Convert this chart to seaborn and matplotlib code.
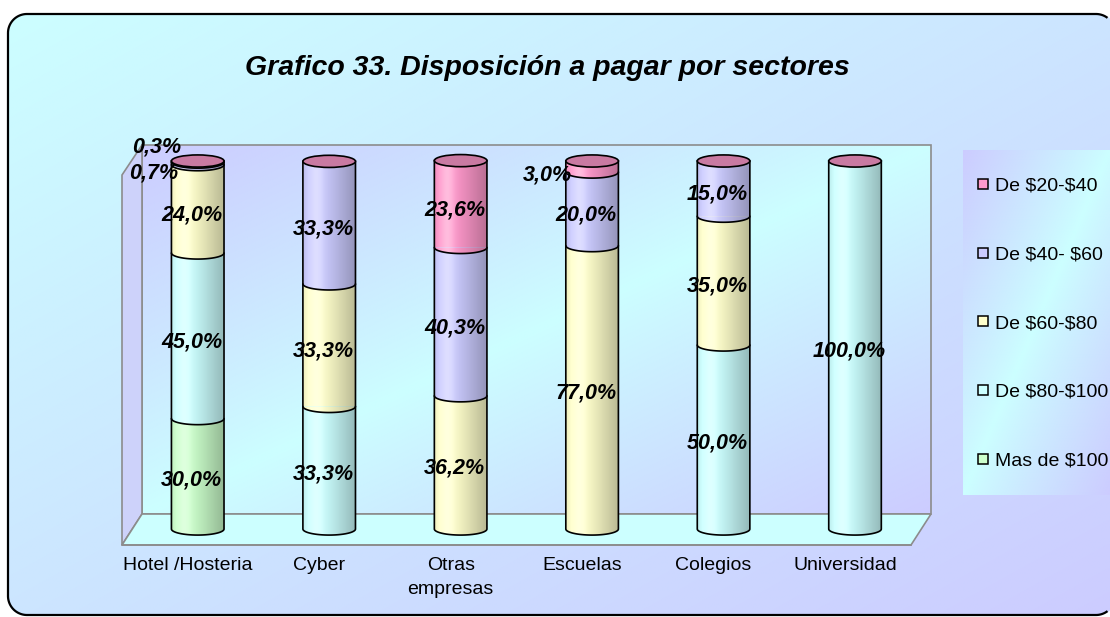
import numpy as np
import pandas as pd
import matplotlib
matplotlib.use("Agg")
import matplotlib.pyplot as plt
from matplotlib.patches import Polygon, Ellipse, FancyBboxPatch, Rectangle
from matplotlib.lines import Line2D
from matplotlib.colors import to_rgb
import seaborn as sns

# ---- data -------------------------------------------------------------
sectors = ["Hotel /Hosteria", "Cyber", "Otras\nempresas", "Escuelas", "Colegios", "Universidad"]
series = ["Mas de $100", "De $80-$100", "De $60-$80", "De $40- $60", "De $20-$40"]
mas_100 = [30.0, 0.0, 0.0, 0.0, 0.0, 0.0]
de_80_100 = [45.0, 33.3, 0.0, 0.0, 50.0, 100.0]
de_60_80 = [24.0, 33.3, 36.2, 77.0, 35.0, 0.0]
de_40_60 = [0.7, 33.3, 40.3, 20.0, 15.0, 0.0]
de_20_40 = [0.3, 0.0, 23.6, 3.0, 0.0, 0.0]
series_values = [mas_100, de_80_100, de_60_80, de_40_60, de_20_40]
series_colors = ["#CCFFCC", "#CCFFFF", "#FFFFCC", "#CCCCFF", "#FF99CC"]
cap_color = "#C97AA2"
title = "Grafico 33. Disposición a pagar por sectores"

# ---- style ------------------------------------------------------------
sns.set_style("white")
plt.rcParams["font.family"] = ["Liberation Sans", "DejaVu Sans"]
plt.rcParams["text.parse_math"] = False
plt.rcParams["text.color"] = "black"
plt.rcParams["xtick.color"] = "black"
plt.rcParams["xtick.labelcolor"] = "black"

W, H = 1110, 617
fig = plt.figure(figsize=(W / 100, H / 100), dpi=100)
fig.patch.set_facecolor("white")

CYAN = np.array(to_rgb("#CCFFFF"))
LAV = np.array(to_rgb("#CCCCFF"))


def blend(t):
    t = np.clip(t, 0, 1)[..., None]
    rgb = CYAN * (1 - t) + LAV * t
    return np.concatenate([rgb, np.ones(t.shape)], axis=-1)


vv, uu = np.mgrid[0:1:300j, 0:1:300j]

# ---- scenery layer in pixel coordinates -------------------------------
bg = fig.add_axes([0, 0, 1, 1], zorder=0)
bg.set_xlim(0, W)
bg.set_ylim(H, 0)
bg.axis("off")

BOX_X, BOX_Y, BOX_W, BOX_H, BOX_R = 8, 14, 1107, 601, 19
frame = FancyBboxPatch((BOX_X, BOX_Y), BOX_W, BOX_H,
                       boxstyle=f"round,pad=0,rounding_size={BOX_R}",
                       facecolor="none", edgecolor="none", zorder=10)
bg.add_patch(frame)
im = bg.imshow(blend((uu + vv) / 2), extent=(0, W, H, 0), aspect="auto",
               interpolation="bilinear", zorder=0)
im.set_clip_path(frame)

# rounded border traced point by point; the part past the canvas edge is left out
x1, y1 = BOX_X + BOX_W, BOX_Y + BOX_H
t = np.linspace(0, np.pi / 2, 30)
pieces = [
    np.column_stack([BOX_X + BOX_R - BOX_R * np.cos(t), BOX_Y + BOX_R - BOX_R * np.sin(t)]),
    np.column_stack([x1 - BOX_R + BOX_R * np.sin(t), BOX_Y + BOX_R - BOX_R * np.cos(t)]),
    np.column_stack([x1 - BOX_R + BOX_R * np.cos(t), y1 - BOX_R + BOX_R * np.sin(t)]),
    np.column_stack([BOX_X + BOX_R - BOX_R * np.sin(t), y1 - BOX_R + BOX_R * np.cos(t)]),
]
border = np.vstack(pieces + [pieces[0][:1]])
bx, by = border[:, 0].copy(), border[:, 1].copy()
off = bx > W - 2
bx[off] = np.nan
by[off] = np.nan
bg.plot(bx, by, color="black", lw=1.6, zorder=10, solid_capstyle="butt")

# back wall, side wall and floor of the plot box
wall_l, wall_r, wall_t, wall_b = 142, 931, 145, 514
front_l, front_r, front_y = 122, 911, 545
bg.imshow(blend(np.abs(uu + vv - 1) ** 0.9), extent=(wall_l, wall_r, wall_b, wall_t),
          aspect="auto", interpolation="bilinear", zorder=1)
bg.add_patch(Rectangle((wall_l, wall_t), wall_r - wall_l, wall_b - wall_t,
                       facecolor="none", edgecolor="#8C8C8C", lw=1.2, zorder=2))
bg.add_patch(Polygon([(front_l, 175), (wall_l, wall_t), (wall_l, wall_b), (front_l, front_y)],
                     closed=True, facecolor="#CDD2FA", edgecolor="#8C8C8C", lw=1.2, zorder=2))
bg.add_patch(Polygon([(front_l, front_y), (wall_l, wall_b), (wall_r, wall_b), (front_r, front_y)],
                     closed=True, facecolor="#CCFFFF", edgecolor="#8C8C8C", lw=1.2, zorder=2))

# legend panel
bg.imshow(blend(np.abs(uu + vv - 1) ** 0.9), extent=(963, W, 495, 150),
          aspect="auto", interpolation="bilinear", zorder=1)
bg.set_xlim(0, W)
bg.set_ylim(H, 0)

# ---- main axes --------------------------------------------------------
AX_L, AX_R, AX_T, AX_B = 122, 931, 145, 545
ax = fig.add_axes([AX_L / W, 1 - AX_B / H, (AX_R - AX_L) / W, (AX_B - AX_T) / H], zorder=1)
ax.set_facecolor("none")

rows = []
for i, sec in enumerate(sectors):
    for s, vals in zip(series, series_values):
        rows.append({"sector": sec, "serie": s, "valor": vals[i]})
df = pd.DataFrame(rows)
df["serie"] = pd.Categorical(df["serie"], categories=series, ordered=True)
df = df.sort_values(["sector", "serie"])
df["tope"] = df.groupby("sector", sort=False)["valor"].cumsum()

BAR_W = 0.4
total_patches = None
# draw cumulative tops from the highest layer down so lower layers sit in front
for s, col in zip(reversed(series), reversed(series_colors)):
    layer = df[df["serie"] == s]
    n0 = len(ax.patches)
    sns.barplot(data=layer, x="sector", y="tope", order=sectors, color=col,
                saturation=1, width=BAR_W, errorbar=None, linewidth=0, zorder=2, ax=ax)
    if total_patches is None:
        total_patches = ax.patches[n0:]

ELL_H = 3.3  # ellipse height in percent units
u = np.linspace(0, 1, 120)
shade = np.zeros((1, u.size, 4))
shade[..., 3] = 0.28 * np.clip((u - 0.33) / 0.67, 0, 1) ** 1.1 + 0.07 * np.clip((0.1 - u) / 0.1, 0, 1)
gloss = np.ones((1, u.size, 4))
gloss[..., 3] = 0.35 * np.exp(-((u - 0.25) / 0.13) ** 2)
theta = np.linspace(np.pi, 2 * np.pi, 60)


def half_ellipse(xc, y):
    return np.column_stack([xc + BAR_W / 2 * np.cos(theta), y + ELL_H / 2 * np.sin(theta)])


def pct(v):
    return f"{v:.1f}%".replace(".", ",")


# label placement for the thin slices that do not fit inside a bar
side_labels = {(0, 3): (-0.338, -2.6), (0, 4): (-0.31, 4.0), (3, 4): (-0.338, -2.3)}
lbl_font = dict(fontsize=15.5, fontweight="bold", fontstyle="italic", color="black", zorder=7)

for i, sec in enumerate(sectors):
    p = total_patches[i]
    x0, bw = p.get_x(), p.get_width()
    xc = x0 + bw / 2
    total = sum(v[i] for v in series_values)
    segs = []
    lo = 0.0
    for k, (vals, col) in enumerate(zip(series_values, series_colors)):
        if vals[i] > 0:
            segs.append((k, lo, lo + vals[i], col))
            lo += vals[i]
    # rounded lower edge of each slice
    for k, a, b, col in segs:
        ax.add_patch(Polygon(half_ellipse(xc, a), closed=True, facecolor=col,
                             edgecolor="none", zorder=2.5))
    outline = np.vstack([[x0, total], [x0, 0], half_ellipse(xc, 0)[1:-1], [x0 + bw, 0],
                         [x0 + bw, total]])
    body = Polygon(outline, closed=True, facecolor="none", edgecolor="black", lw=1.2, zorder=4)
    ax.add_patch(body)
    for img in (shade, gloss):
        ov = ax.imshow(img, extent=(x0, x0 + bw, -ELL_H, total), aspect="auto",
                       interpolation="bilinear", zorder=3)
        ov.set_clip_path(body)
    for k, a, b, col in segs[1:]:
        arc = half_ellipse(xc, a)
        ax.plot(arc[:, 0], arc[:, 1], color="black", lw=1.2, zorder=4)
    ax.add_patch(Ellipse((xc, total), bw, ELL_H, facecolor=cap_color,
                         edgecolor="black", lw=1.2, zorder=5))
    for k, a, b, col in segs:
        if (i, k) in side_labels:
            dx, dy = side_labels[(i, k)]
            ax.text(xc + dx, (a + b) / 2 + dy, pct(b - a), ha="center", va="center", **lbl_font)
        else:
            ax.text(xc - 0.045, (a + b) / 2 - 1.6, pct(b - a), ha="center", va="center", **lbl_font)

# axes scales matching the box geometry
PX_UNIT = 131.5
ZERO_PX = 529
PX_PCT = 3.68
ax.set_xlim((AX_L - 197.5) / PX_UNIT, (AX_R - 197.5) / PX_UNIT)
ax.set_ylim((ZERO_PX - AX_B) / PX_PCT, (ZERO_PX - AX_T) / PX_PCT)

front_shift = 10 / PX_UNIT
ax.set_xticks(np.arange(len(sectors)) - front_shift, labels=sectors, fontsize=14, color="black")
ax.set_xticks(np.arange(len(sectors) + 1) - 0.5 - front_shift, minor=True)
ax.tick_params(axis="x", which="major", length=0, pad=9, labelcolor="black")
ax.tick_params(axis="x", which="minor", length=4.5, width=1, color="#404040", direction="out")
for lbl in ax.get_xticklabels():
    lbl.set_linespacing(1.5)
ax.set_yticks([])
ax.set_xlabel("")
ax.set_ylabel("")
for side in ("top", "right", "left"):
    ax.spines[side].set_visible(False)
ax.spines["bottom"].set_color("#8C8C8C")
ax.spines["bottom"].set_linewidth(1.2)
ax.spines["bottom"].set_bounds(-0.5 - front_shift, len(sectors) - 0.5 - front_shift)

# legend
handles = [Line2D([], [], marker="s", linestyle="none", markersize=7.5,
                  markerfacecolor=c, markeredgecolor="black", markeredgewidth=1.1)
           for c in reversed(series_colors)]
leg = fig.legend(handles, list(reversed(series)), loc="upper left",
                 bbox_to_anchor=(977 / W, 1 - 177 / H), frameon=False, fontsize=14,
                 handlelength=0.6, handletextpad=0.33, labelspacing=2.63, borderpad=0,
                 borderaxespad=0, labelcolor="black")

fig.text(547 / W, 1 - 68 / H, title, ha="center", va="center", fontsize=20.5,
         fontweight="bold", fontstyle="italic", color="black")

fig.savefig("out.png", dpi=100)
